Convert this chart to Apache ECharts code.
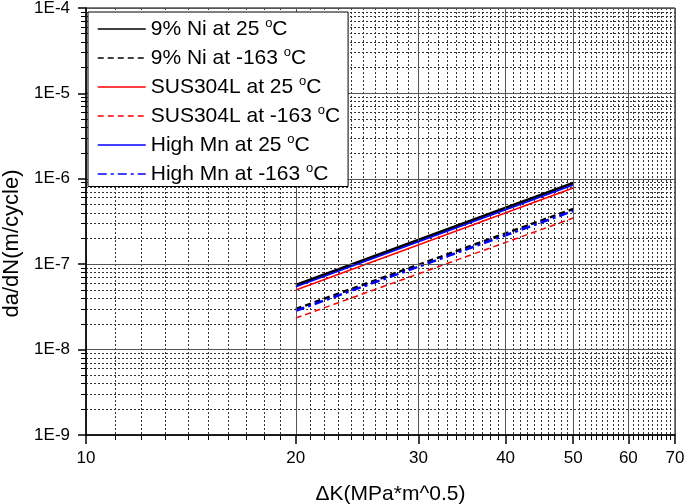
<!DOCTYPE html>
<html>
<head>
<meta charset="utf-8">
<script src="https://cdn.jsdelivr.net/npm/echarts@6/dist/echarts.min.js"></script>
<style>html,body{margin:0;padding:0;background:#fff}#c{width:685px;height:504px}</style>
</head>
<body>
<div id="c"></div>
<script>
// ---- data ----
const dK = [20, 50];
const ni25 = [5.71e-8, 8.93e-7];
const ni163 = [2.99e-8, 4.43e-7];
const sus25 = [4.99e-8, 7.80e-7];
const sus163 = [2.34e-8, 3.47e-7];
const mn25 = [5.45e-8, 8.46e-7];
const mn163 = [2.85e-8, 4.20e-7];
const seriesNames = ['9% Ni at 25 °C', '9% Ni at -163 °C', 'SUS304L at 25 °C', 'SUS304L at -163 °C', 'High Mn at 25 °C', 'High Mn at -163 °C'];
// ---- ticks ----
const xMajorTicks = [10, 20, 30, 40, 50, 60, 70];
const xMinorTicks = [11,12,13,14,15,16,17,18,19,21,22,23,24,25,26,27,28,29,31,32,33,34,35,36,37,38,39,41,42,43,44,45,46,47,48,49,51,52,53,54,55,56,57,58,59,61,62,63,64,65,66,67,68,69];
const yMajorTicks = [1e-9, 1e-8, 1e-7, 1e-6, 1e-5, 1e-4];
const yMantissas = [2, 3, 4, 5, 6, 7, 8, 9];
const yMinorTicks = [];
yMajorTicks.slice(0, -1).forEach(d => yMantissas.forEach(m => yMinorTicks.push(+(m * d).toPrecision(3))));

function pts(ys) { return dK.map((x, i) => [x, ys[i]]); }

const chart = echarts.init(document.getElementById('c'), null, {renderer: 'canvas'});
const font = 'Liberation Sans, Arial, sans-serif';
const minorSplit = {show: true, lineStyle: {color: '#333', width: 1, type: [2, 2]}};
const majorSplit = {show: true, lineStyle: {color: '#555', width: 1, type: 'solid'}};

function line(name, data, color, type, width, z) {
  return {
    name, type: 'line', data: pts(data), xAxisIndex: 0, yAxisIndex: 0,
    symbol: 'none', z: z || 3,
    lineStyle: {color, type, width}, itemStyle: {color},
    animation: false
  };
}

chart.setOption({
  animation: false,
  grid: {left: 86, right: 10, top: 8, bottom: 69, containLabel: false, outerBoundsMode: 'none',
    show: true, borderColor: '#000', borderWidth: 1, backgroundColor: 'transparent'},
  legend: {
    data: seriesNames,
    orient: 'vertical', left: 88, top: 12,
    backgroundColor: '#fff', borderColor: '#000', borderWidth: 1,
    padding: [5, 8, 2, 9], itemGap: 6.5, itemWidth: 48, itemHeight: 24,
    itemStyle: {opacity: 0},
    lineStyle: {width: 1.5},
    formatter: function (name) { const a = name.split('°')[0]; return '{n|' + a + '}{s|o}{n|C}'; },
    textStyle: {
      color: '#000', fontFamily: font, fontSize: 21,
      rich: {
        n: {fontFamily: font, fontSize: 21, lineHeight: 24, color: '#000'},
        s: {fontFamily: font, fontSize: 13, lineHeight: 12, verticalAlign: 'top', color: '#000'}
      }
    },
    z: 10
  },
  xAxis: [
    {
      type: 'log', logBase: 10, min: 10, max: 70, position: 'bottom',
      name: 'ΔK(MPa*m^0.5)', nameLocation: 'middle', nameGap: 49,
      nameTextStyle: {fontFamily: font, fontSize: 21, color: '#000', padding: [0, 0, 0, 20]},
      axisLine: {show: true, lineStyle: {color: '#000', width: 1.5}},
      axisTick: {show: true, customValues: xMajorTicks, length: 9, inside: false, lineStyle: {color: '#000', width: 1.5}},
      axisLabel: {show: true, customValues: xMajorTicks, fontFamily: font, fontSize: 17, color: '#000', margin: 15},
      splitLine: majorSplit, minorTick: {show: false}, z: 5
    },
    {
      type: 'log', logBase: 10, min: 10, max: 70, position: 'bottom', offset: 0,
      axisLine: {show: false},
      axisTick: {show: true, customValues: xMinorTicks, length: 5, inside: false, lineStyle: {color: '#000', width: 1}},
      axisLabel: {show: false},
      splitLine: minorSplit
    }
  ],
  yAxis: [
    {
      type: 'log', logBase: 10, min: 1e-9, max: 1e-4, position: 'left',
      name: 'da/dN(m/cycle)', nameLocation: 'middle', nameGap: 63,
      nameTextStyle: {fontFamily: font, fontSize: 22, color: '#000', padding: [0, 44, 0, 0]},
      axisLine: {show: true, lineStyle: {color: '#000', width: 1.5}},
      axisTick: {show: true, customValues: yMajorTicks, length: 8, inside: false, lineStyle: {color: '#000', width: 1.5}},
      axisLabel: {show: true, customValues: yMajorTicks, fontFamily: font, fontSize: 17, color: '#000', margin: 16,
        formatter: v => '1E' + Math.round(Math.log10(v))},
      splitLine: majorSplit, z: 5
    },
    {
      type: 'log', logBase: 10, min: 1e-9, max: 1e-4, position: 'left', offset: 0,
      axisLine: {show: false},
      axisTick: {show: true, customValues: yMinorTicks, length: 5, inside: false, lineStyle: {color: '#000', width: 1}},
      axisLabel: {show: false},
      splitLine: minorSplit
    }
  ],
  series: [
    line(seriesNames[0], ni25, '#000000', 'solid', 2.5, 4),
    line(seriesNames[1], ni163, '#000000', [6, 4], 2.5, 3),
    line(seriesNames[2], sus25, '#ff0000', 'solid', 1.5, 3),
    line(seriesNames[3], sus163, '#ff0000', [6, 4], 1.5, 3),
    line(seriesNames[4], mn25, '#0000ff', 'solid', 1.5, 5),
    line(seriesNames[5], mn163, '#0000ff', [9, 4, 3, 4], 2.5, 4)
  ]
});
</script>
</body>
</html>
